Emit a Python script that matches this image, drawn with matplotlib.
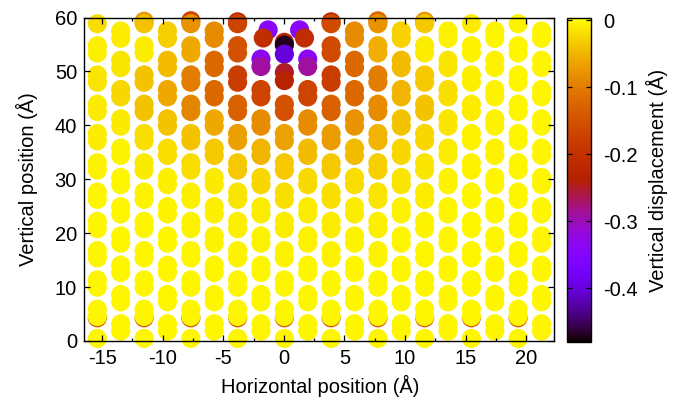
import matplotlib
matplotlib.use('Agg')
import matplotlib.pyplot as plt
import numpy as np

plt.rcParams['font.family'] = ['Liberation Sans', 'DejaVu Sans']
plt.rcParams['axes.unicode_minus'] = False
plt.rcParams['font.size'] = 14.5

# lattice columns (Å)
col_x = [-15.40, -13.47, -11.54, -9.61, -7.68, -5.75, -3.82, -1.89, 0.04, 1.97,
         3.90, 5.83, 7.76, 9.69, 11.62, 13.55, 15.48, 17.41, 19.34, 21.27]

# dumbbell centres, bottom to top, for even and odd columns (Å)
even_y = [-0.20, 5.23, 10.66, 16.09, 21.52, 26.95, 32.38, 37.81, 43.24, 48.67, 54.10, 59.53]
odd_y = [2.52, 7.95, 13.38, 18.81, 24.24, 29.67, 35.10, 40.53, 45.96, 51.39, 56.82]
half_gap = 0.68

# vertical displacement per dumbbell (Å), rows from the top row (k=11) down to k=0
disp_rows = [
    [-0.020, None, -0.040, None, -0.080, None, -0.170, None, None, None,
     -0.160, None, -0.080, None, -0.035, None, -0.012, None, -0.005, None],
    [-0.008, -0.010, -0.010, -0.030, -0.060, -0.085, -0.150, None, None, None,
     -0.160, -0.085, -0.055, -0.028, -0.010, -0.006, -0.006, -0.004, -0.004, -0.003],
    [-0.015, -0.015, -0.040, -0.045, -0.100, -0.120, -0.180, None, None, None,
     -0.180, -0.120, -0.100, -0.045, -0.035, -0.015, -0.008, -0.005, -0.004, -0.003],
    [-0.012, -0.025, -0.040, -0.060, -0.090, -0.120, -0.130, -0.170, -0.150, -0.170,
     -0.130, -0.120, -0.085, -0.050, -0.040, -0.018, -0.010, -0.006, -0.004, -0.003],
    [-0.010, -0.012, -0.018, -0.040, -0.040, -0.060, -0.068, -0.085, -0.065, -0.085,
     -0.070, -0.080, -0.050, -0.040, -0.025, -0.015, -0.006, -0.005, -0.004, -0.003],
    [-0.005, -0.006, -0.012, -0.020, -0.020, -0.035, -0.035, -0.050, -0.035, -0.045,
     -0.035, -0.045, -0.030, -0.025, -0.015, -0.010, -0.005, -0.005, -0.004, -0.003],
    [-0.004, -0.004, -0.005, -0.008, -0.008, -0.012, -0.015, -0.025, -0.018, -0.022,
     -0.018, -0.020, -0.015, -0.015, -0.010, -0.006, -0.004, -0.004, -0.003, -0.003],
    [-0.003, -0.003, -0.004, -0.005, -0.005, -0.007, -0.008, -0.010, -0.010, -0.010,
     -0.009, -0.009, -0.008, -0.006, -0.005, -0.004, -0.004, -0.003, -0.003, -0.003],
    [-0.003, -0.003, -0.003, -0.004, -0.004, -0.005, -0.005, -0.006, -0.006, -0.006,
     -0.005, -0.005, -0.005, -0.004, -0.004, -0.003, -0.003, -0.003, -0.003, -0.003],
    [-0.003, -0.003, -0.003, -0.003, -0.003, -0.004, -0.004, -0.004, -0.004, -0.004,
     -0.004, -0.004, -0.004, -0.003, -0.003, -0.003, -0.003, -0.003, -0.003, -0.003],
    [-0.003, -0.003, -0.003, -0.003, -0.003, -0.003, -0.003, -0.003, -0.003, -0.003,
     -0.003, -0.003, -0.003, -0.003, -0.003, -0.003, -0.003, -0.003, -0.003, -0.003],
    [-0.003, -0.003, -0.003, -0.003, -0.003, -0.003, -0.003, -0.003, -0.003, -0.003,
     -0.003, -0.003, -0.003, -0.003, -0.003, -0.003, -0.003, -0.003, -0.003, -0.003],
]
disp = disp_rows[::-1]

# strongly displaced atoms under the surface centre
special_x = [-1.30, -1.70, 1.30, 1.70, 0.04, 0.04, -1.89, -1.89, 1.97, 1.97, 0.04, 0.04]
special_y = [57.70, 56.20, 57.70, 56.20, 54.90, 53.20, 52.30, 50.90, 52.30, 50.90, 49.80, 48.30]
special_d = [-0.34, -0.21, -0.34, -0.21, -0.47, -0.40, -0.335, -0.29, -0.335, -0.29, -0.25, -0.23]

# atoms hidden behind others, only their rims show
hidden_x = [-15.40, -11.54, -7.68, -3.82, 0.04, 3.90, 7.76, 11.62, 15.48, 19.34,
            -11.54, -7.68, -3.82, 3.90, 7.76, 11.62, 0.04]
hidden_y = [4.30, 4.30, 4.30, 4.30, 4.30, 4.30, 4.30, 4.30, 4.30, 4.30,
            59.30, 59.40, 59.20, 59.20, 59.40, 59.30, 55.40]
hidden_d = [-0.14, -0.14, -0.14, -0.14, -0.14, -0.14, -0.14, -0.14, -0.14, -0.14,
            -0.08, -0.17, -0.22, -0.22, -0.12, -0.08, -0.22]

cb_ticks = [0, -0.1, -0.2, -0.3, -0.4]
cb_labels = ['0', '-0.1', '-0.2', '-0.3', '-0.4']

xs, ys, ds = [], [], []
for k, row in enumerate(disp):
    for i, x in enumerate(col_x):
        d = row[i]
        if d is None:
            continue
        c = even_y[k] if i % 2 == 0 else odd_y[k]
        for y in (c + half_gap, c - half_gap):
            xs.append(x)
            ys.append(y)
            ds.append(d)
xs += special_x
ys += special_y
ds += special_d

xs, ys, ds = np.array(xs), np.array(ys), np.array(ds)
keep = (ys >= 0) & (ys <= 60)
xs, ys, ds = xs[keep], ys[keep], ds[keep]
order = np.argsort(-ys)
xs, ys, ds = xs[order], ys[order], ds[order]

vmin, vmax = -0.48, 0.003
fig = plt.figure(figsize=(6.79, 4.03), dpi=100)
ax = fig.add_axes([84 / 679, 62 / 403, 470 / 679, 323.5 / 403])

ax.scatter(hidden_x, hidden_y, c=hidden_d, cmap='gnuplot', vmin=vmin, vmax=vmax,
           s=190, edgecolors='none', clip_on=False, zorder=1)
sc = ax.scatter(xs, ys, c=ds, cmap='gnuplot', vmin=vmin, vmax=vmax,
                s=190, edgecolors='none', clip_on=False, zorder=1)

ax.set_xlim(-16.5, 22.3)
ax.set_ylim(0, 60)
ax.set_xticks([-15, -10, -5, 0, 5, 10, 15, 20])
ax.set_xticks(np.arange(-15, 22.5, 2.5), minor=True)
ax.set_yticks([0, 10, 20, 30, 40, 50, 60])
ax.tick_params(direction='in', top=True, right=True, length=4.3, width=0.9)
ax.tick_params(axis='x', which='major', pad=6)
ax.tick_params(axis='y', which='major', pad=5)
ax.tick_params(axis='x', which='minor', direction='in', top=True, length=2.2, width=0.9)
for sp in ax.spines.values():
    sp.set_linewidth(1.0)

ax.set_xlabel('Horizontal position (Å)')
ax.set_ylabel('Vertical position (Å)')
ax.xaxis.set_label_coords(0.502, -0.139)
ax.xaxis.label.set_va('center')
ax.yaxis.set_label_coords(-0.121, 0.50)
ax.yaxis.label.set_va('center')

cax = fig.add_axes([567 / 679, 61 / 403, 24 / 679, 324 / 403])
cb = fig.colorbar(sc, cax=cax)
cb.set_ticks(cb_ticks)
cb.set_ticklabels(cb_labels)
cb.outline.set_linewidth(1.0)
cax.tick_params(direction='in', left=True, right=True, length=3.6, width=0.9, pad=8.5)
cax.minorticks_off()
cb.set_label('Vertical displacement (Å)', labelpad=6)

fig.savefig('out.png', dpi=100)
